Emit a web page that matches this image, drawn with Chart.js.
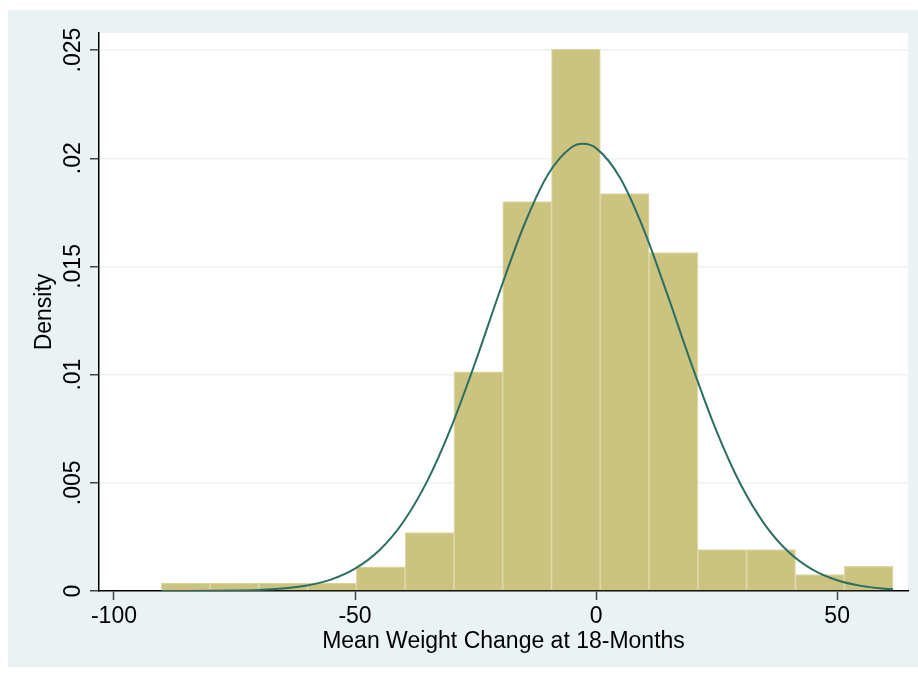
<!DOCTYPE html>
<html>
<head>
<meta charset="utf-8">
<script src="https://cdn.jsdelivr.net/npm/chart.js@4"></script>
<style>
  body { margin: 0; background: #fff; }
  #wrap { width: 918px; height: 674px; }
</style>
</head>
<body>
<div id="wrap"><canvas id="histChart" width="918" height="674"></canvas></div>
<script>
// Histogram + normal curve

const binCenters = [-85.14, -75.02, -64.9, -54.78, -44.66, -34.54, -24.42, -14.3, -4.18, 5.94, 16.06, 26.18, 36.3, 46.42, 56.54];
const densities = [0.00037, 0.00037, 0.00037, 0.00037, 0.00112, 0.0027, 0.01013, 0.018, 0.02505, 0.01837, 0.01564, 0.00191, 0.00191, 0.00076, 0.00114];

const curveX = [-90.2, -85, -80, -75, -70, -65, -60, -55, -50, -45, -40, -35, -30, -25, -20, -15, -10, -5, -2.7, 0, 5, 10, 15, 20, 25, 30, 35, 40, 45, 50, 55, 60, 61.6];
const curveY = [0.000001, 0.000002, 0.000007, 0.000018, 0.000047, 0.000113, 0.000252, 0.000526, 0.00103, 0.00187, 0.00319, 0.00509, 0.0076, 0.0106, 0.01383, 0.01687, 0.01924, 0.02052, 0.02067, 0.02047, 0.01909, 0.01665, 0.01357, 0.01035, 0.00738, 0.00492, 0.00307, 0.00179, 0.000975, 0.000497, 0.000237, 0.000106, 0.00008];

const xTicks = [-100, -50, 0, 50];
const yTicks = [0, 0.005, 0.01, 0.015, 0.02, 0.025];

const fond = {
  id: "fond",
  beforeDraw(chart) {
    const { ctx, chartArea } = chart;
    ctx.save();
    ctx.fillStyle = "#ffffff";
    ctx.fillRect(0, 0, chart.width, chart.height);
    ctx.fillStyle = "#eaf2f3";
    ctx.fillRect(8, 10, 910, 657);
    ctx.fillStyle = "#ffffff";
    ctx.fillRect(chartArea.left, chartArea.top, chartArea.right - chartArea.left, chartArea.bottom - chartArea.top);
    ctx.restore();
  },
};

Chart.defaults.font.family = "'Liberation Sans', Arial, Helvetica, sans-serif";
Chart.defaults.font.size = 23;
Chart.defaults.color = "#000";

const histChart = document.querySelector("#histChart");
const myChart = new Chart(histChart, {
  type: "bar",
  data: {
    datasets: [
      {
        type: "line",
        data: curveX.map((x, i) => ({ x: x, y: curveY[i] })),
        borderColor: "#2b6e63",
        borderWidth: 2,
        pointRadius: 0,
        fill: false,
        cubicInterpolationMode: "monotone",
        order: 0,
      },
      {
        type: "bar",
        data: binCenters.map((x, i) => ({ x: x, y: densities[i] })),
        backgroundColor: "#cbc37f",
        borderColor: "#dcd7a6",
        borderWidth: 1.2,
        barPercentage: 1,
        categoryPercentage: 1,
        order: 1,
      },
    ],
  },
  options: {
    responsive: false,
    devicePixelRatio: 1,
    animation: false,
    layout: {
      padding: { left: 8, top: 33, right: 10, bottom: 0 },
    },
    plugins: {
      legend: { display: false },
      tooltip: { enabled: false },
    },
    scales: {
      x: {
        type: "linear",
        min: -103.1,
        max: 64.7,
        offset: false,
        z: 1,
        afterBuildTicks: (scale) => {
          scale.ticks = xTicks.map((v) => ({ value: v }));
        },
        afterFit: (scale) => {
          scale.height = 83;
        },
        border: { color: "#000", width: 1.5 },
        grid: { offset: false, drawOnChartArea: false, tickLength: 9, tickColor: "#444", tickWidth: 1.5 },
        ticks: {
          padding: 3,
          maxRotation: 0,
          autoSkip: false,
          callback: (v) => String(v),
        },
        title: {
          display: true,
          text: "Mean Weight Change at 18-Months",
          padding: { top: 0, bottom: 19 },
        },
      },
      y: {
        min: 0,
        max: 0.02579,
        afterBuildTicks: (scale) => {
          scale.ticks = yTicks.map((v) => ({ value: v }));
        },
        afterFit: (scale) => {
          scale.width = 91;
        },
        border: { color: "#000", width: 1.5 },
        grid: { color: "#eaf2f3", lineWidth: 1.5, tickLength: 9, tickColor: "#444", tickWidth: 1.5 },
        ticks: {
          minRotation: 90,
          maxRotation: 90,
          crossAlign: "center",
          padding: -6,
          autoSkip: false,
          callback: (v) => (v === 0 ? "0" : String(v).replace(/^0/, "")),
        },
        title: {
          display: true,
          text: "Density",
          padding: { top: 23, bottom: 0 },
        },
      },
    },
  },
  plugins: [fond],
});
</script>
</body>
</html>
